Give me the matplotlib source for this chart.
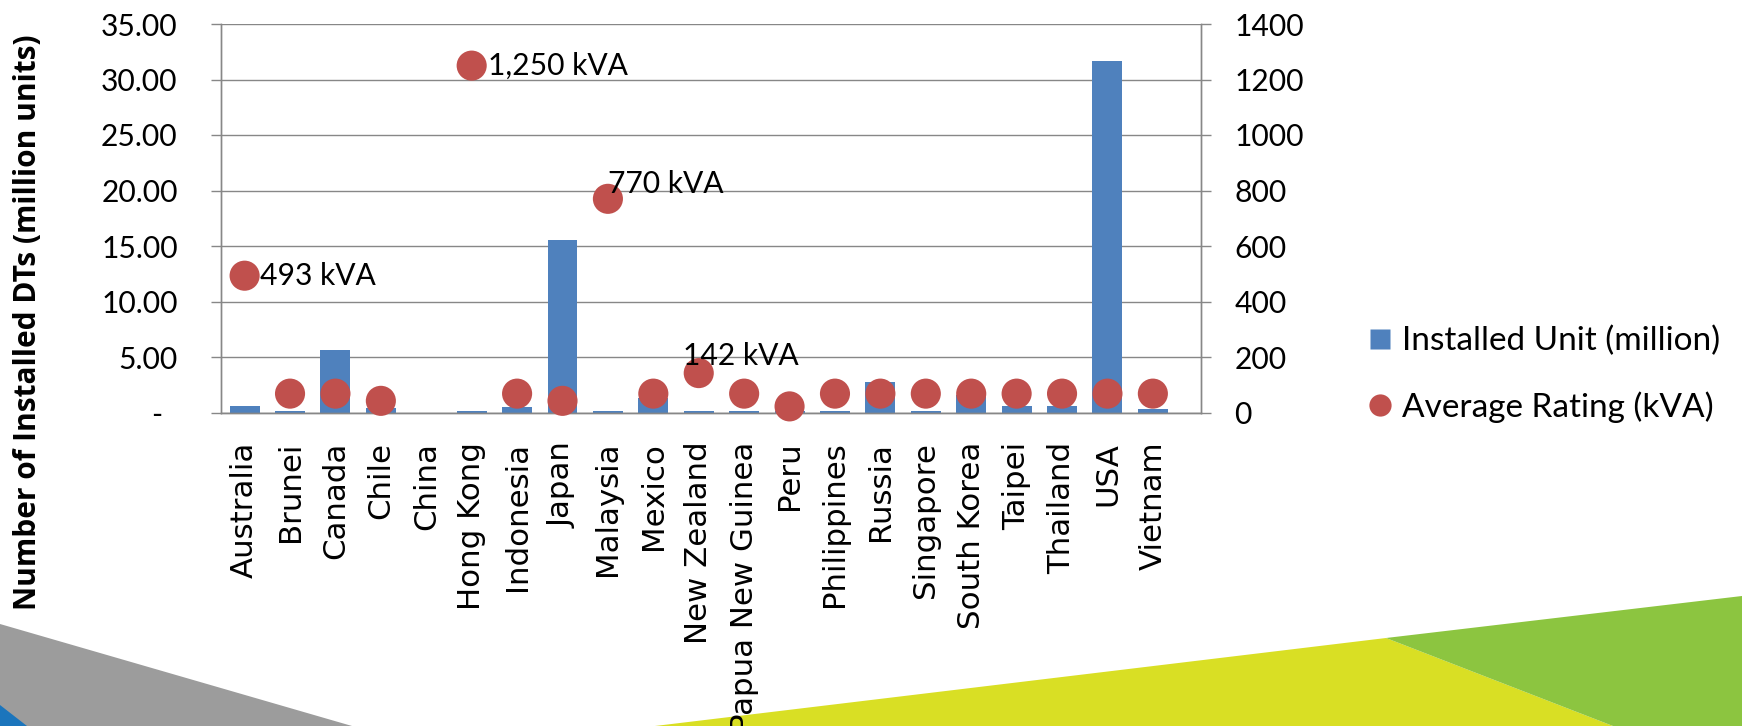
import matplotlib
matplotlib.use('Agg')
import matplotlib.pyplot as plt
import numpy as np
from matplotlib.lines import Line2D
from matplotlib.patches import Polygon

plt.rcParams['font.family'] = ['Lato', 'DejaVu Sans']

countries = [
    'Australia', 'Brunei', 'Canada', 'Chile', 'China', 'Hong Kong', 'Indonesia',
    'Japan', 'Malaysia', 'Mexico', 'New Zealand', 'Papua New Guinea', 'Peru',
    'Philippines', 'Russia', 'Singapore', 'South Korea', 'Taipei', 'Thailand',
    'USA', 'Vietnam',
]
# installed distribution transformers, million units
installed_units = [0.63, 0.15, 5.67, 0.45, 0.0, 0.15, 0.48, 15.5, 0.15, 1.32, 0.15,
                   0.15, 0.1, 0.15, 2.76, 0.18, 1.55, 0.63, 0.63, 31.7, 0.35]
# average rating, kVA (China has no figure)
avg_rating = [493, 68, 68, 42, np.nan, 1250, 68, 42, 770, 68, 142,
              68, 22, 68, 68, 68, 68, 68, 68, 68, 68]
labelled = ['Australia', 'Hong Kong', 'Malaysia', 'New Zealand']

left_ticks = [0, 5, 10, 15, 20, 25, 30, 35]
right_ticks = [0, 200, 400, 600, 800, 1000, 1200, 1400]

bar_color = '#4F81BD'
dot_color = '#C0504D'
grid_color = '#878787'
label_offsets = {  # points, relative to the marker centre (text baseline)
    'Australia': (11, -7),
    'Hong Kong': (11.5, -6.5),
    'Malaysia': (0, 4.3),
    'New Zealand': (-11.5, 5.8),
}

W, H = 1742, 726
fig = plt.figure(figsize=(W / 100, H / 100), dpi=100)


def px(x, y):
    return (x / W, 1 - y / H)


# background shapes
shapes = [
    ([(0, 624), (352, 726), (0, 726)], '#9C9C9C'),
    ([(0, 705), (27, 726), (0, 726)], '#1B75BC'),
    ([(655, 726), (1386, 638), (1613, 726)], '#D9DF24'),
    ([(1386, 638), (1742, 596), (1742, 726), (1613, 726)], '#8CC540'),
]
for pts, col in shapes:
    fig.patches.append(Polygon([px(*p) for p in pts], closed=True, facecolor=col,
                               edgecolor='none', transform=fig.transFigure,
                               zorder=-1))

ax = fig.add_axes([221 / W, 1 - 412.5 / H, (1201 - 221) / W, (412.5 - 24) / H])
ax2 = ax.twinx()

x = np.arange(len(countries))
ax.bar(x, installed_units, width=0.66, color=bar_color, zorder=2)
ax2.scatter(x, avg_rating, s=470, color=dot_color, edgecolors='none',
            zorder=3, clip_on=False)

for name in labelled:
    i = countries.index(name)
    v = avg_rating[i]
    ax2.annotate(f'{v:,.0f} kVA', xy=(i, v), xytext=label_offsets[name],
                 textcoords='offset points', ha='left', va='baseline',
                 fontsize=21.6, color='black', zorder=4)

ax.set_xlim(-0.52, 21.06)
ax.set_ylim(0, 35)
ax2.set_ylim(0, 1400)

ax.set_yticks(left_ticks)
ax.set_yticklabels(['' if t == 0 else f'{t:.2f}' for t in left_ticks])
ax.annotate('-', xy=(0, 0), xycoords=('axes fraction', 'data'),
            xytext=(-42, 0), textcoords='offset points', ha='right',
            va='center_baseline', fontsize=21.6)
ax2.set_yticks(right_ticks)
ax2.set_yticklabels([str(t) for t in right_ticks])

ax.set_xticks(x)
ax.set_xticklabels(countries, rotation=90, va='top', ha='center')
ax.tick_params(axis='x', length=0, pad=21)
ax.tick_params(axis='y', length=7.2, width=1, color=grid_color, pad=24,
               labelsize=21.6)
ax2.tick_params(axis='y', length=7.2, width=1, color=grid_color, pad=17,
                labelsize=21.6)
for lbl in ax.get_xticklabels():
    lbl.set_fontfamily('DejaVu Sans')
    lbl.set_fontsize(22.2)

ax.grid(axis='y', color=grid_color, linewidth=1)
ax.set_axisbelow(True)
for a in (ax, ax2):
    a.spines['top'].set_visible(False)
    for s in ('left', 'right', 'bottom'):
        a.spines[s].set_color(grid_color)
        a.spines[s].set_linewidth(1)

fig.text(28 / W, 1 - 322 / H, 'Number of Installed DTs (million units)',
         rotation=90, ha='center', va='center', fontsize=21.5,
         fontweight='bold', family='Open Sans')

handles = [
    Line2D([], [], linestyle='none', marker='s', markersize=14.4,
           markerfacecolor=bar_color, markeredgecolor='none'),
    Line2D([], [], linestyle='none', marker='o', markersize=16,
           markerfacecolor=dot_color, markeredgecolor='none'),
]
fig.legend(handles, ['Installed Unit (million)', 'Average Rating (kVA)'],
           loc='center left', bbox_to_anchor=px(1365, 374.5), frameon=False,
           fontsize=24, handlelength=0.9, handletextpad=0.2,
           labelspacing=1.05, borderpad=0, borderaxespad=0)

fig.savefig('out.png', dpi=100)
